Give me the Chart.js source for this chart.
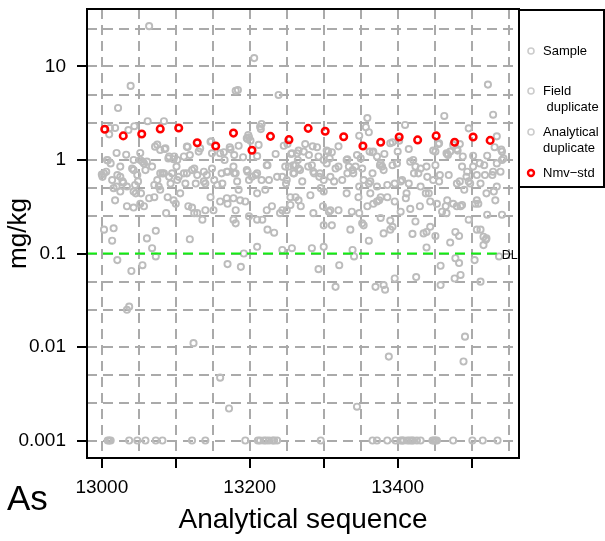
<!DOCTYPE html>
<html>
<head>
<meta charset="utf-8">
<script src="https://cdn.jsdelivr.net/npm/chart.js@4.4.1/dist/chart.umd.min.js"></script>
<style>
    html, body { margin: 0; padding: 0; background: #fff; }
    #wrap { width: 605px; height: 541px; }
</style>
</head>
<body>
<div id="wrap"><canvas id="myChart" width="605" height="541"></canvas></div>
<script>
// axis setup
const xMin = 12980, xMax = 13564;
const yMin = 0.00065, yMax = 41.2;
const xGrid = [13000, 13050, 13100, 13150, 13200, 13250, 13300, 13350, 13400, 13450, 13500, 13550];
const xTicked = [13000, 13100, 13200, 13300, 13400, 13500];
const xLabelled = [13000, 13200, 13400];
const yGrid = [0.001, 0.0025, 0.005, 0.01, 0.025, 0.05, 0.1, 0.25, 0.5, 1, 2.5, 5, 10, 25];
const yLabelled = [0.001, 0.01, 0.1, 1, 10];

// detection limit
const detectionLimit = 0.1;
const dlSeq = [12980, 13534];

// Nmv-std (reference material)
const stdSeq = [13004, 13029, 13054, 13079, 13104, 13129, 13154, 13178, 13203, 13228, 13253,
                13279, 13302, 13327, 13353, 13377, 13402, 13427, 13452, 13477, 13502, 13525];
const stdVal = [2.13, 1.81, 1.90, 2.15, 2.20, 1.53, 1.41, 1.94, 1.27, 1.79, 1.65,
                2.18, 2.03, 1.77, 1.41, 1.55, 1.76, 1.64, 1.81, 1.55, 1.76, 1.62];

// samples + duplicates  [sequence, mg/kg]
const samplePts = [
    // high
    [13064, 27], [13039, 6.2], [13022, 3.6], [13181, 5.5], [13062, 2.6], [13084, 2.6], [13011, 2.2],
    [13018, 2.2], [13036, 2.09], [13044, 2.3], [13206, 12.3], [13184, 5.6], [13239, 4.96], [13216, 2.43],
    [13215, 2.14], [13359, 2.81], [13357, 2.24], [13361, 1.98], [13522, 6.4], [13529, 3.05], [13463, 2.96],
    [13410, 2.37], [13496, 2.18], [13214, 2.27],
    // 1 - 2
    [13010, 1.88], [13075, 1.46], [13085, 1.31], [13116, 1.38], [13131, 1.23], [13148, 1.58], [13165, 1.21],
    [13173, 1.37], [13020, 1.19], [13033, 1.14], [13052, 1.19], [13007, 1.0], [13055, 0.96], [13079, 1.28],
    [13091, 1.09], [13098, 1.09], [13111, 1.09], [13119, 1.13], [13149, 1.18], [13166, 1.0], [13179, 1.13],
    [13348, 1.82], [13199, 1.75], [13197, 1.68], [13201, 1.61], [13185, 1.42], [13212, 1.45], [13246, 1.42],
    [13251, 1.48], [13275, 1.48], [13285, 1.40], [13291, 1.37], [13311, 1.21], [13320, 1.40], [13304, 1.26],
    [13366, 1.21], [13235, 1.16], [13266, 1.26], [13332, 1.02], [13191, 1.07], [13393, 1.55], [13402, 1.61],
    [13455, 1.48], [13484, 1.48], [13480, 1.31], [13534, 1.79], [13531, 1.37], [13540, 1.29], [13382, 1.16],
    [13400, 1.23], [13415, 1.31], [13448, 1.26], [13467, 1.16], [13471, 1.23], [13481, 1.26], [13502, 1.11],
    [13521, 1.11], [13543, 1.04], [13210, 1.10], [13256, 1.16], [13264, 1.18], [13273, 1.23], [13280, 1.13],
    [13293, 1.09], [13308, 1.04], [13345, 1.13], [13350, 1.04], [13362, 1.23], [13372, 1.09], [13468, 1.13],
    [13541, 1.23], [13072, 1.39], [13086, 1.33], [13097, 1.02], [13115, 1.39], [13133, 1.33], [13147, 1.57],
    [13160, 1.18], [13174, 1.30], [13196, 1.71], [13198, 1.85], [13257, 1.18], [13265, 1.0], [13043, 1.0],
    [13102, 1.0], [13300, 1.0], [13306, 1.23], [13331, 1.0], [13367, 1.23], [13390, 1.51], [13421, 1.0],
    [13451, 1.23], [13456, 1.51], [13466, 1.18], [13475, 1.45], [13488, 1.09], [13541, 1.0],
    [13008, 0.99], [13052, 1.0], [13061, 0.96], [13090, 1.04],
    // 0.5 - 1
    [13001, 0.66], [13006, 0.75], [13012, 0.92], [13014, 0.61], [13021, 0.69], [13025, 0.85], [13028, 0.59],
    [13034, 0.52], [13043, 0.78], [13048, 0.69], [13049, 0.59], [13057, 0.92], [13059, 0.78], [13071, 0.54],
    [13077, 0.52], [13082, 0.72], [13091, 0.66], [13093, 0.56], [13101, 0.85], [13104, 0.66], [13111, 0.72],
    [13113, 0.56], [13125, 0.81], [13127, 0.56], [13138, 0.75], [13140, 0.56], [13152, 0.61], [13163, 0.56],
    [13170, 0.75], [13179, 0.72], [13016, 0.50], [13181, 0.72], [13183, 0.59], [13197, 0.75], [13199, 0.61],
    [13208, 0.69], [13224, 0.88], [13226, 0.61], [13244, 0.66], [13249, 0.56], [13253, 0.85], [13260, 0.72],
    [13262, 0.88], [13271, 0.59], [13284, 0.88], [13287, 0.72], [13294, 0.66], [13300, 0.61], [13314, 0.59],
    [13320, 0.85], [13325, 0.61], [13332, 0.72], [13339, 0.78], [13343, 0.85], [13348, 0.52], [13354, 0.61],
    [13361, 0.56], [13366, 0.72], [13377, 0.92], [13379, 0.85], [13393, 0.88], [13399, 0.92], [13417, 0.96],
    [13422, 0.72], [13431, 0.81], [13440, 0.66], [13451, 0.88], [13456, 0.59], [13469, 0.69], [13487, 0.85],
    [13494, 0.75], [13496, 0.59], [13507, 0.69], [13517, 0.88], [13528, 0.69], [13534, 0.92], [13539, 0.75],
    [13372, 0.52], [13386, 0.54], [13396, 0.56], [13404, 0.59], [13415, 0.56], [13431, 0.52], [13480, 0.56],
    [13490, 0.48], [13498, 0.56], [13512, 0.56], [13530, 0.46], [13248, 0.85], [13259, 0.88], [13268, 0.78],
    [13279, 0.85], [13286, 0.75], [13295, 0.72], [13304, 0.92], [13309, 0.66], [13316, 0.81], [13334, 0.85],
    [13340, 0.72], [13352, 0.81], [13363, 0.59], [13376, 0.88], [13381, 0.78], [13406, 0.61], [13424, 0.85],
    [13428, 0.72], [13439, 0.85], [13448, 0.61], [13457, 0.69], [13484, 0.59], [13493, 0.66], [13502, 0.85],
    [13511, 0.92], [13518, 0.69], [13529, 0.75], [13045, 0.54], [13084, 0.72], [13000, 0.70],
    [13003, 0.72], [13020, 0.52], [13025, 0.66], [13029, 0.57], [13041, 0.81], [13068, 0.85], [13075, 0.61],
    [13079, 0.72], [13095, 0.72], [13102, 0.61], [13115, 0.72], [13122, 0.78], [13129, 0.69], [13138, 0.59],
    [13142, 0.69], [13149, 0.81], [13156, 0.54], [13162, 0.72], [13169, 0.75], [13178, 0.85], [13196, 0.78],
    [13203, 0.66], [13210, 0.72], [13216, 0.61], [13223, 0.88], [13237, 0.66], [13250, 0.61], [13259, 0.72],
    [13266, 0.81],
    // 0.2 - 0.5
    [13046, 0.44], [13052, 0.34], [13057, 0.32], [13064, 0.39], [13071, 0.40], [13089, 0.40], [13100, 0.34],
    [13122, 0.31], [13125, 0.27], [13136, 0.23], [13140, 0.29], [13147, 0.40], [13151, 0.29], [13170, 0.34],
    [13178, 0.39], [13181, 0.29], [13087, 0.27], [13185, 0.48], [13194, 0.36], [13210, 0.44], [13221, 0.48],
    [13230, 0.32], [13244, 0.29], [13255, 0.33], [13262, 0.40], [13269, 0.32], [13282, 0.42], [13296, 0.50],
    [13299, 0.32], [13307, 0.28], [13320, 0.29], [13338, 0.28], [13348, 0.27], [13359, 0.32], [13367, 0.34],
    [13375, 0.37], [13199, 0.25], [13210, 0.23], [13217, 0.23], [13181, 0.21], [13377, 0.40], [13386, 0.40],
    [13396, 0.36], [13404, 0.28], [13411, 0.39], [13417, 0.30], [13438, 0.44], [13444, 0.36], [13460, 0.28],
    [13465, 0.32], [13467, 0.37], [13480, 0.32], [13487, 0.33], [13507, 0.37], [13509, 0.34], [13521, 0.26],
    [13532, 0.37], [13541, 0.26], [13377, 0.24], [13390, 0.225], [13424, 0.22], [13255, 0.40], [13266, 0.37],
    [13286, 0.27], [13300, 0.46], [13309, 0.29], [13331, 0.44], [13347, 0.40], [13363, 0.44], [13372, 0.36],
    [13412, 0.44], [13430, 0.32], [13442, 0.44], [13453, 0.34], [13466, 0.27], [13475, 0.34], [13485, 0.32],
    [13505, 0.34], [13520, 0.44], [13534, 0.52], [13250, 0.29], [13300, 0.20], [13311, 0.20], [13352, 0.21],
    [13496, 0.23], [13043, 0.31], [13053, 0.44],
    [13018, 0.37], [13025, 0.46], [13034, 0.32], [13043, 0.46], [13079, 0.48], [13097, 0.37], [13106, 0.44],
    [13117, 0.32], [13129, 0.27], [13160, 0.36], [13169, 0.39], [13178, 0.23], [13187, 0.37], [13223, 0.29],
    [13241, 0.27],
    // 0.1 - 0.2
    [13003, 0.18], [13016, 0.186], [13014, 0.137], [13061, 0.145], [13073, 0.175], [13068, 0.114], [13119, 0.142],
    [13224, 0.18], [13233, 0.167], [13354, 0.20], [13361, 0.137], [13210, 0.118], [13244, 0.109], [13257, 0.114],
    [13284, 0.114], [13300, 0.118], [13192, 0.100], [13339, 0.109], [13381, 0.164], [13393, 0.193], [13420, 0.162],
    [13435, 0.164], [13444, 0.193], [13451, 0.154], [13439, 0.116], [13471, 0.131], [13483, 0.154], [13507, 0.18],
    [13512, 0.18], [13516, 0.151], [13519, 0.14], [13516, 0.123], [13390, 0.18], [13439, 0.17], [13478, 0.17],
    [13520, 0.145], [13336, 0.18],
    // below 0.1
    [13073, 0.093], [13021, 0.085], [13040, 0.065], [13055, 0.075], [13170, 0.077], [13188, 0.072], [13293, 0.068],
    [13321, 0.075], [13341, 0.093], [13316, 0.044], [13370, 0.044], [13383, 0.041], [13458, 0.074], [13478, 0.089],
    [13483, 0.079], [13504, 0.085], [13537, 0.093], [13381, 0.046], [13396, 0.054], [13425, 0.056], [13458, 0.046],
    [13477, 0.054], [13485, 0.059], [13512, 0.050], [13037, 0.027], [13034, 0.025], [13124, 0.011], [13160, 0.0047],
    [13172, 0.0022], [13345, 0.0023], [13388, 0.0079], [13491, 0.0129], [13489, 0.0070],
    // at 0.001
    [13008, 0.001], [13010, 0.001], [13012, 0.001], [13037, 0.001], [13048, 0.001], [13059, 0.001], [13073, 0.001],
    [13082, 0.001], [13122, 0.001], [13140, 0.001], [13194, 0.001], [13211, 0.001], [13214, 0.001], [13219, 0.001],
    [13222, 0.001], [13226, 0.001], [13231, 0.001], [13233, 0.001], [13237, 0.001], [13296, 0.001], [13366, 0.001],
    [13372, 0.001], [13386, 0.001], [13397, 0.001], [13404, 0.001], [13406, 0.001], [13408, 0.001], [13413, 0.001],
    [13416, 0.001], [13419, 0.001], [13421, 0.001], [13426, 0.001], [13431, 0.001], [13447, 0.001], [13449, 0.001],
    [13451, 0.001], [13453, 0.001], [13475, 0.001], [13501, 0.001], [13515, 0.001], [13535, 0.001]
];

const legendItems = ['Sample', 'Field|duplicate', 'Analytical|duplicate', 'Nmv\u2212std'];

const FONT = 'Liberation Sans, Arial, sans-serif';
const gridGray = '#aaaaaa';

// frame, legend box and the loose texts
const extras = {
    id: 'extras',
    afterDraw(chart) {
        const {ctx, chartArea: a} = chart;
        ctx.save();
        ctx.strokeStyle = '#000';
        ctx.lineWidth = 2;
        ctx.strokeRect(a.left, a.top, a.right - a.left, a.bottom - a.top);

        // legend
        const lx = a.right, ly = a.top + 1;
        ctx.strokeRect(lx, ly, 85, 177);
        ctx.font = '13px ' + FONT;
        ctx.fillStyle = '#000';
        ctx.textBaseline = 'middle';
        ctx.textAlign = 'left';
        const rows = [[41, 0], [81, 97], [122, 138], [163, 0]];
        legendItems.forEach((txt, i) => {
            const [y1, y2] = rows[i];
            const parts = txt.split('|');
            ctx.beginPath();
            ctx.arc(lx + 12, ly + y1, 3, 0, Math.PI * 2);
            ctx.lineWidth = i === 3 ? 2.4 : 1.6;
            ctx.strokeStyle = i === 3 ? '#ff0000' : '#cccccc';
            ctx.stroke();
            ctx.fillText(parts[0], lx + 24, ly + y1);
            if (parts[1]) ctx.fillText((i === 1 ? ' ' : '') + parts[1], lx + 24, ly + y2);
        });

        ctx.font = '12.5px ' + FONT;
        ctx.textBaseline = 'alphabetic';
        ctx.fillText('DL', chart.scales.x.getPixelForValue(dlSeq[1]) + 5, chart.scales.y.getPixelForValue(detectionLimit) + 5);

        ctx.font = '35px ' + FONT;
        ctx.fillText('As', 7, 510);
        ctx.restore();
    }
};

let ctx = document.getElementById('myChart');
let myChart = new Chart(ctx, {
    type: 'scatter',
    data: {
        datasets: [{
            label: 'Nmv-std',
            data: stdSeq.map((s, i) => ({x: s, y: stdVal[i]})),
            borderColor: '#ff0000',
            backgroundColor: 'rgba(0,0,0,0)',
            pointRadius: 3.3,
            pointBorderWidth: 2.5,
        }, {
            label: 'DL',
            type: 'line',
            data: dlSeq.map(s => ({x: s, y: detectionLimit})),
            borderColor: '#11ee11',
            borderWidth: 2.2,
            borderDash: [10, 6],
            pointRadius: 0,
            fill: false,
        }, {
            label: 'Sample',
            data: samplePts.map(p => ({x: p[0], y: p[1]})),
            borderColor: '#bcbcbc',
            backgroundColor: 'rgba(0,0,0,0)',
            pointRadius: 3.1,
            pointBorderWidth: 1.9,
        }]
    },
    options: {
        responsive: false,
        animation: false,
        devicePixelRatio: 1,
        layout: { padding: { left: 0, right: 86, top: 9, bottom: 0 } },
        scales: {
            x: {
                type: 'linear',
                min: xMin,
                max: xMax,
                afterBuildTicks: (scale) => { scale.ticks = xGrid.map(v => ({value: v})); },
                afterFit: (scale) => { scale.height = 83; scale.paddingLeft = 0; scale.paddingRight = 0; },
                ticks: {
                    autoSkip: false,
                    maxRotation: 0,
                    padding: 8,
                    color: '#000',
                    font: { family: FONT, size: 19 },
                    callback: (v) => xLabelled.includes(v) ? String(v) : ''
                },
                grid: {
                    color: gridGray,
                    lineWidth: 2,
                    tickLength: 10,
                    tickWidth: 2,
                    tickColor: (c) => xTicked.includes(c.tick && c.tick.value) ? '#000' : 'rgba(0,0,0,0)'
                },
                border: { display: false, dash: [10, 6] },
                title: {
                    display: true,
                    text: 'Analytical sequence',
                    color: '#000',
                    font: { family: FONT, size: 28 },
                    padding: { top: 0, bottom: 4 }
                }
            },
            y: {
                type: 'logarithmic',
                min: yMin,
                max: yMax,
                afterBuildTicks: (scale) => { scale.ticks = yGrid.map(v => ({value: v})); },
                afterFit: (scale) => { scale.width = 87; scale.paddingTop = 0; scale.paddingBottom = 0; },
                ticks: {
                    autoSkip: false,
                    padding: 11,
                    color: '#000',
                    font: { family: FONT, size: 19 },
                    callback: (v) => yLabelled.includes(v) ? String(v) : ''
                },
                grid: {
                    color: gridGray,
                    lineWidth: 2,
                    tickLength: 10,
                    tickWidth: 2,
                    tickColor: (c) => yLabelled.includes(c.tick && c.tick.value) ? '#000' : 'rgba(0,0,0,0)'
                },
                border: { display: false, dash: [10, 6] },
                title: {
                    display: true,
                    text: 'mg/kg',
                    color: '#000',
                    font: { family: FONT, size: 26 },
                    padding: { top: 3, bottom: 0 }
                }
            }
        },
        plugins: {
            legend: { display: false },
            tooltip: { enabled: false }
        }
    },
    plugins: [extras]
});
</script>
</body>
</html>
